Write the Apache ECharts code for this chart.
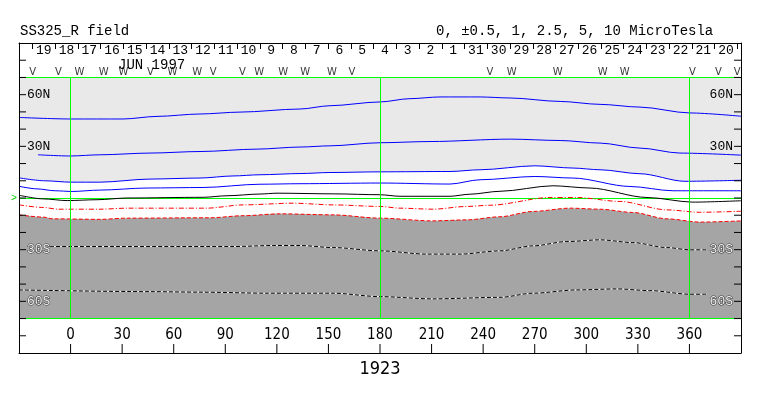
<!DOCTYPE html>
<html><head><meta charset="utf-8">
<script src="https://cdn.jsdelivr.net/npm/echarts@6/dist/echarts.min.js"></script>
<style>html,body{margin:0;padding:0;background:#fff}#c{width:763px;height:396px}</style>
</head><body><div id="c"></div>
<script>
// ---------- DATA ----------
const titleText = 'SS325_R field';
const levelsText = '0, \u00b10.5, 1, 2.5, 5, 10 MicroTesla';
const monthLabel = 'JUN 1997';
const rotationLabel = '1923';

const lonTickLabels = [0, 30, 60, 90, 120, 150, 180, 210, 240, 270, 300, 330, 360];
const latTicks = [-80, -70, -60, -50, -40, -30, -20, -10, 0, 10, 20, 30, 40, 50, 60, 70, 80];
const latTickLabels = [[60, '60N'], [30, '30N'], [-30, '30S'], [-60, '60S']];
const meridians = [0, 180, 360];

const dayLabels = ['19','18','17','16','15','14','13','12','11','10','9','8','7','6','5','4','3','2','1',
                   '31','30','29','28','27','26','25','24','23','22','21','20'];
const dayBoundaryLon = -22.2;   // longitude of first day boundary
const dayStepLon = 13.23;       // longitude span of one day

const vMarkLon = [-22.1, -7.0, 46.5, 83.0, 99.9, 163.7, 243.9, 361.7, 376.8, 387.8];
const wMarkLon = [5.2, 19.2, 30.8, 59.2, 73.7, 109.7, 123.7, 136.5, 152.1, 256.6, 283.4, 309.5, 322.3];

// contour lines [lon, lat]
const pos10 = [[-30,46.8],[0,45.9],[30.5,45.9],[50.3,47.4],[75.3,48.8],[98.6,49.9],[133.5,51.7],[150.9,53.6],[180,55.8],[197.4,57.7],[214.9,58.7],[238.2,58.7],[255.7,58.1],[284.8,56.1],[308,54.4],[331.2,52.8],[360.3,49.4],[390,47.5]];
const pos5 = [[-18.9,25.1],[0,24.4],[17.2,25.1],[46.2,26.1],[75.3,27],[108.5,28.4],[133.5,29.6],[150.9,30.3],[180,32.1],[209.1,32.8],[255.7,34.2],[284.8,33.4],[308,31.9],[331.2,29],[354.5,26.1],[390,24.9]];
const pos2_5 = [[-30,11.7],[-14.8,10],[0,9.2],[17.2,9.2],[46.2,11],[75.3,11.6],[94.5,12.8],[110.2,13.5],[133.5,14.2],[150.9,14.8],[180,15.2],[220.7,15.4],[238.2,16.4],[270.1,18.7],[292.2,17.4],[308,16.4],[331.2,14.1],[357.4,9.7],[390,10.3]];
const pos1 = [[-30,6.8],[-19.5,5.3],[-9,4.2],[0.9,3.8],[17.2,4.6],[44.5,5.8],[77.1,6.1],[110.2,8],[133.5,8.3],[180,8.7],[220.7,8.1],[238.2,10.6],[270.1,12.5],[292.2,11.6],[325.4,6.7],[350.4,4.2],[390,4.2]];
const neutral = [[-30,1.6],[-16,-0.5],[-2,-1.5],[15.4,-1],[32.9,0],[77.1,0.4],[91,1.3],[110.2,2.3],[120.1,2.8],[153.8,2.4],[180,1.9],[191.6,1],[220.7,1],[232.3,2.2],[249.8,3.9],[280.6,7.1],[302.1,5.8],[335.3,0.3],[362,-2.4],[390,-1.6]];
const negHalf = [[-30,-4],[-16,-5.5],[-7.3,-6.5],[17.2,-6.5],[32.9,-5.9],[79.4,-5.9],[100.3,-4],[129.4,-3],[152.7,-4],[180,-4.9],[191.6,-5.9],[210.8,-6.5],[230.6,-4.9],[244,-4.2],[278.9,0.3],[294.6,0.3],[319.6,-2],[346.9,-6.9],[366.1,-8.3],[390,-7.7]];
const neg1 = [[-30,-9.8],[-16,-11.1],[-10.2,-12.1],[17.2,-12.4],[32.9,-11.7],[81.1,-11.5],[100.3,-10.3],[121.8,-9.2],[152.7,-9.8],[180,-11.7],[210.8,-13.3],[230.6,-12.7],[249.8,-10.9],[269,-7.8],[290.5,-5.9],[308,-6.5],[327.1,-8.4],[346.9,-12.1],[366.1,-14],[390,-13.3]];
const neg5 = [[-11.9,-28.2],[0,-28.2],[94.5,-28.2],[117.8,-27.6],[133.5,-27.6],[152.7,-28.8],[180,-30.7],[207.3,-32.6],[226.5,-32.6],[249.8,-30.7],[269,-27.8],[288.7,-25.3],[308,-24.3],[327.1,-25.9],[346.9,-28.8],[360.3,-30.1],[370.2,-30.1]];
const neg10 = [[-30,-53.4],[46.2,-54.4],[75.3,-54.7],[114.3,-55.3],[152.7,-55.3],[180,-57.3],[210.8,-58.6],[249.8,-57.7],[269,-55.3],[294.6,-53.4],[317.8,-52.8],[337,-53.8],[360.3,-55.9],[370.2,-55.9]];

// ---------- LAYOUT ----------
const W = 763;
const lonMin = -30, lonMax = 390, latMin = -90, latMax = 90;
const frameLeft = 19, frameRight = 22, frameTop = 43, frameHeight = 310;
const plotTop = 77.5, plotHeight = 241, bandHeight = 34;
const sideTickLen = 7, bottomTickLen = 9;
const markerRowLat = 70;
const plotW = W - frameLeft - frameRight;
const pxPerLon = plotW / (lonMax - lonMin);
const lonToPx = lon => frameLeft + (lon - lonMin) * pxPerLon;
const dayLeft = lonToPx(dayBoundaryLon);
const dayRight = W - lonToPx(dayBoundaryLon + dayLabels.length * dayStepLon);

const MONO = "'Liberation Mono', 'DejaVu Sans Mono', monospace";
const NARROW = "'Liberation Sans Narrow', 'DejaVu Sans Condensed', 'Liberation Mono', monospace";
const latMap = new Map(latTickLabels);
const latFormatter = v => {
  const t = latMap.get(v);
  if (!t) return '';
  return v < 0 ? '{d|' + t + '}' : '{n|' + t + '}';
};
const latRich = {
  n: {color: '#000', fontFamily: MONO, fontSize: 13},
  d: {color: '#f4f4f4', fontFamily: MONO, fontSize: 13, textBorderColor: '#333', textBorderWidth: 1}
};
const SM = 0.3;
const blackLine = () => ({show: true, onZero: false, lineStyle: {color: '#000', width: 1}});

const chart = echarts.init(document.getElementById('c'), null, {renderer: 'canvas'});
const contour = (data, color, type, z) => ({
  type: 'line', xAxisIndex: 2, yAxisIndex: 2, data: data, symbol: 'none',
  smooth: SM, smoothMonotone: 'x', silent: true, z: z,
  lineStyle: {color: color, width: 1, type: type}
});
// tick marks as thin rect symbols placed through the frame grid's scales
const tickSeries = (data, size, offset) => ({
  type: 'scatter', xAxisIndex: 0, yAxisIndex: 0, data: data, symbol: 'rect',
  symbolSize: size, symbolOffset: offset, clip: false, silent: true, z: 7,
  itemStyle: {color: '#000', opacity: 1}
});

chart.setOption({
  animation: false,
  backgroundColor: '#fff',
  title: [
    {text: titleText, left: 15, top: 19, textStyle: {fontFamily: MONO, fontSize: 14, fontWeight: 'normal', color: '#000'}},
    {text: levelsText, left: 431, top: 19, textStyle: {fontFamily: MONO, fontSize: 14, fontWeight: 'normal', color: '#000'}},
    {text: monthLabel, left: 113, top: 53, textStyle: {fontFamily: MONO, fontSize: 14, fontWeight: 'normal', color: '#000'}}
  ],
  grid: [
    {left: frameLeft, right: frameRight, top: frameTop, height: frameHeight},
    {left: frameLeft, right: frameRight, top: plotTop, height: plotHeight},
    {left: dayLeft, right: dayRight, top: frameTop, height: bandHeight}
  ],
  xAxis: [
    {gridIndex: 0, type: 'value', min: lonMin, max: lonMax, interval: 30, position: 'bottom', z: 5,
     axisLine: blackLine(),
     axisTick: {show: false},
     axisLabel: {inside: true, margin: 10, fontFamily: NARROW, fontSize: 15, color: '#000',
       formatter: v => lonTickLabels.indexOf(v) >= 0 ? String(v) : ''},
     splitLine: {show: false},
     name: rotationLabel, nameLocation: 'middle', nameGap: 7,
     nameTextStyle: {fontFamily: NARROW, fontSize: 18, color: '#000', verticalAlign: 'top'}},
    {gridIndex: 0, type: 'value', min: lonMin, max: lonMax, position: 'top', z: 5,
     axisLine: blackLine(),
     axisTick: {show: false}, axisLabel: {show: false}, splitLine: {show: false}},
    {gridIndex: 1, type: 'value', min: lonMin, max: lonMax, show: false},
    {gridIndex: 2, type: 'category', data: dayLabels, boundaryGap: true, position: 'top', z: 5,
     axisLine: blackLine(),
     axisTick: {show: true, inside: true, length: 6, interval: 0, lineStyle: {color: '#000'}},
     axisLabel: {inside: true, margin: 1, interval: 0, fontFamily: MONO, fontSize: 13, color: '#000'},
     splitLine: {show: false}}
  ],
  yAxis: [
    {gridIndex: 0, type: 'value', min: latMin, max: latMax, interval: 10, position: 'left', z: 5,
     axisLine: blackLine(),
     axisTick: {show: false},
     axisLabel: {inside: true, margin: 8, formatter: latFormatter, rich: latRich},
     splitLine: {show: false}},
    {gridIndex: 0, type: 'value', min: latMin, max: latMax, interval: 10, position: 'right', z: 5,
     axisLine: blackLine(),
     axisTick: {show: false},
     axisLabel: {inside: true, margin: 8, formatter: latFormatter, rich: latRich},
     splitLine: {show: false}},
    {gridIndex: 1, type: 'value', min: -70, max: 70, interval: 70, position: 'left', z: 2,
     axisLine: {show: false, onZero: false}, axisTick: {show: false},
     axisLabel: {show: true, margin: 2, color: '#00cc00', fontFamily: MONO, fontSize: 10,
       formatter: v => v === 0 ? '>' : ''},
     splitLine: {show: true, lineStyle: {color: '#00ff00', width: 1}}},
    {gridIndex: 2, type: 'value', show: false}
  ],
  series: [
    {type: 'line', xAxisIndex: 2, yAxisIndex: 2, data: pos2_5, symbol: 'none', smooth: SM, smoothMonotone: 'x',
     silent: true, z: 1, lineStyle: {width: 0, opacity: 0},
     areaStyle: {color: '#e9e9e9', opacity: 1, origin: 'end'}},
    {type: 'line', xAxisIndex: 2, yAxisIndex: 2, data: neg1, symbol: 'none', smooth: SM, smoothMonotone: 'x',
     silent: true, z: 1, lineStyle: {width: 0, opacity: 0},
     areaStyle: {color: '#a5a5a5', opacity: 1, origin: 'start'}},
    {type: 'line', xAxisIndex: 2, yAxisIndex: 2, data: [], z: 2, silent: true,
     markLine: {symbol: 'none', silent: true, animation: false, label: {show: false},
       lineStyle: {color: '#00ff00', type: 'solid', width: 1},
       data: meridians.map(m => ({xAxis: m}))}},
    contour(pos10, '#0000ff', 'solid', 3),
    contour(pos5, '#0000ff', 'solid', 3),
    contour(pos2_5, '#0000ff', 'solid', 3),
    contour(pos1, '#0000ff', 'solid', 3),
    contour(neutral, '#000000', 'solid', 3),
    contour(negHalf, '#ff0000', [5, 2, 1, 2], 3),
    contour(neg1, '#ff0000', [4, 2], 3),
    contour(neg5, '#ffffff', 'solid', 3),
    contour(neg5, '#000000', [4, 2], 4),
    contour(neg10, '#ffffff', 'solid', 3),
    contour(neg10, '#000000', [4, 2], 4),
    tickSeries(lonTickLabels.map(l => [l, latMin]), [1, bottomTickLen], [0, '-50%']),
    tickSeries(latTicks.map(t => [lonMin, t]), [sideTickLen, 1], ['50%', 0]),
    tickSeries(latTicks.map(t => [lonMax, t]), [sideTickLen, 1], ['-50%', 0]),
    {type: 'scatter', xAxisIndex: 0, yAxisIndex: 0, symbolSize: 1, z: 5, silent: true,
     itemStyle: {color: 'rgba(0,0,0,0)'},
     data: vMarkLon.map(l => [l, markerRowLat]),
     label: {show: true, position: 'top', distance: 0, formatter: 'V', color: '#000',
       fontFamily: "'DejaVu Sans', sans-serif", fontSize: 10}},
    {type: 'scatter', xAxisIndex: 0, yAxisIndex: 0, symbolSize: 1, z: 5, silent: true,
     itemStyle: {color: 'rgba(0,0,0,0)'},
     data: wMarkLon.map(l => [l, markerRowLat]),
     label: {show: true, position: 'top', distance: 0, formatter: 'W', color: '#000',
       fontFamily: "'DejaVu Sans', sans-serif", fontSize: 10}}
  ]
});
</script></body></html>
